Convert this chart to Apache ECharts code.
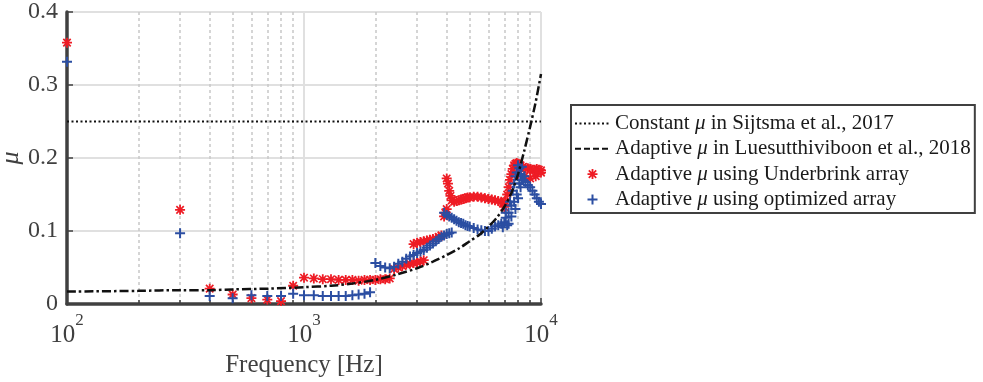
<!DOCTYPE html>
<html>
<head>
<meta charset="utf-8">
<title>mu vs frequency</title>
<script src="https://cdn.jsdelivr.net/npm/echarts@6.0.0/dist/echarts.min.js"></script>
<style>
html,body{margin:0;padding:0;background:#fff;}
#chart{width:983px;height:382px;}
</style>
</head>
<body>
<div id="chart"></div>
<script>
// constant mu (Sijtsma et al. 2017)
var constFreq=[100,10000];
var constMu=[0.25,0.25];

// adaptive mu curve (Luesutthiviboon et al. 2018)
var luesFreq=[100,200,300,400,500,700,1000,1300,1600,2000,2500,3000,3500,4000,4500,5000,5500,6000,6500,7000,7500,8000,8500,9000,9500,10000];
var luesMu=[0.017,0.018,0.019,0.019,0.020,0.021,0.023,0.025,0.028,0.033,0.041,0.049,0.058,0.067,0.076,0.086,0.095,0.106,0.118,0.133,0.152,0.178,0.210,0.243,0.277,0.315];

// Underbrink array
var ubFreq=[100,300,400,500,600,700,800,900,
	1000,1100,1200,1300,1400,1500,1600,1700,1800,1900,2000,2100,2200,2300,
	2400,2500,2600,2700,2800,2900,3000,3100,3200,
	2900,3000,3100,3200,3300,3400,3500,3600,3700,3800,
	3900,3950,4000,4000,4050,4100,4150,4200,4300,4400,4500,4600,4700,4800,4900,5000,5200,5400,5600,5800,6000,6200,6400,6600,6800,
	6900,7000,7100,7200,7300,7400,7500,7600,7700,7800,7900,8000,8200,8400,8600,8800,9000,9200,9400,9600,9800,10000,
	8000,8500,9000,9500,10000];
var ubMu=[0.358,0.129,0.021,0.013,0.008,0.006,0.004,0.025,
	0.036,0.035,0.034,0.034,0.033,0.033,0.033,0.032,0.033,0.033,0.033,0.034,0.034,0.035,
	0.048,0.050,0.052,0.054,0.055,0.056,0.057,0.058,0.060,
	0.082,0.084,0.085,0.086,0.087,0.088,0.089,0.090,0.092,0.094,
	0.120,0.125,0.130,0.172,0.165,0.155,0.148,0.142,0.140,0.141,0.142,0.143,0.144,0.145,0.146,0.146,0.147,0.147,0.146,0.145,0.144,0.143,0.142,0.141,0.140,
	0.138,0.133,0.140,0.150,0.160,0.170,0.178,0.185,0.190,0.192,0.193,0.192,0.190,0.188,0.186,0.186,0.185,0.184,0.184,0.185,0.184,0.183,
	0.178,0.175,0.172,0.175,0.180];

// optimized array
var optFreq=[100,300,400,500,600,700,800,900,
	1000,1100,1200,1300,1400,1500,1600,1700,1800,1900,
	2000,2100,2200,2300,2400,2500,2600,2700,2800,2900,3000,3100,3200,3300,3400,3500,3600,3700,3800,3900,4000,4100,4200,
	3900,4000,4100,4200,4300,4400,4500,4600,4700,4800,4900,5000,5200,5400,5600,5800,6000,6200,6400,6600,6800,7000,
	7100,7200,7300,7400,7500,7600,7700,7800,7900,8000,8100,8200,8300,
	6900,7100,7300,7500,7700,7900,8100,8300,8500,
	7800,8000,8200,8400,8600,8800,9000,9200,9400,9600,9800,10000];
var optMu=[0.332,0.097,0.011,0.008,0.012,0.011,0.011,0.014,
	0.012,0.012,0.011,0.011,0.011,0.011,0.012,0.013,0.014,0.016,
	0.056,0.052,0.050,0.049,0.051,0.055,0.058,0.062,0.065,0.067,0.070,0.072,0.074,0.077,0.080,0.083,0.086,0.089,0.092,0.094,0.096,0.097,0.098,
	0.125,0.122,0.120,0.118,0.116,0.114,0.112,0.111,0.110,0.108,0.107,0.106,0.104,0.102,0.101,0.100,0.100,0.103,0.106,0.108,0.110,0.112,
	0.118,0.108,0.125,0.140,0.120,0.155,0.165,0.175,0.180,0.190,0.186,0.178,0.170,
	0.105,0.125,0.110,0.135,0.140,0.150,0.165,0.188,0.175,
	0.130,0.145,0.160,0.170,0.167,0.163,0.160,0.155,0.150,0.145,0.140,0.137];

var starSym='path://M4.1,0H5.9V10H4.1Z M0,4.1H10V5.9H0Z M1.9,0.7L9.3,8.1L8.1,9.3L0.7,1.9Z M8.1,0.7L9.3,1.9L1.9,9.3L0.7,8.1Z';
var plusSym='path://M4,0H6V4H10V6H6V10H4V6H0V4H4Z';
var serif='Liberation Serif';

function pairs(f,v){
	var out=[];
	for(var i=0;i<f.length;i++){
		out.push([f[i],v[i]]);
	}
	return out;
}

var chart=echarts.init(document.getElementById('chart'));

var noDot={opacity:0,color:'rgba(0,0,0,0)',borderWidth:0};

var option={
	animation:false,
	backgroundColor:'#fff',
	grid:{left:67,right:442,top:12,bottom:78,containLabel:false,outerBoundsMode:'none'},
	legend:{
		orient:'vertical',
		left:571,
		top:105,
		padding:[8,4,3,3],
		itemWidth:35,
		itemHeight:10,
		itemGap:4.3,
		backgroundColor:'#fff',
		borderColor:'#404040',
		borderWidth:2,
		borderRadius:0,
		data:[
			{name:'Constant μ in Sijtsma et al., 2017',itemStyle:noDot},
			{name:'Adaptive μ in Luesutthiviboon et al., 2018',itemStyle:noDot,lineStyle:{type:[6,3]}},
			{name:'Adaptive μ using Underbrink array'},
			{name:'Adaptive μ using optimized array'}
		],
		formatter:function(name){
			return name.replace('μ','{mu|μ}');
		},
		textStyle:{
			fontFamily:serif,fontSize:21,color:'#1a1a1a',lineHeight:20,
			rich:{mu:{fontFamily:serif,fontSize:21,fontStyle:'italic',color:'#1a1a1a',lineHeight:20}}
		}
	},
	xAxis:{
		type:'log',
		logBase:10,
		min:100,
		max:10000,
		name:'Frequency [Hz]',
		nameLocation:'middle',
		nameGap:40,
		nameTextStyle:{fontFamily:serif,fontSize:25,color:'#404040'},
		axisLine:{show:true,onZero:false,lineStyle:{color:'#404040',width:3.5}},
		axisTick:{show:true,inside:true,length:6,lineStyle:{color:'#404040',width:1.5}},
		minorTick:{show:true,splitNumber:9,length:4,lineStyle:{color:'#404040',width:1.5}},
		splitLine:{show:true,lineStyle:{color:'#e0e0e0',width:2}},
		minorSplitLine:{show:true,lineStyle:{color:'#c8c8c8',width:1.5,type:[3,3]}},
		axisLabel:{
			margin:8,
			color:'#404040',
			formatter:function(v){
				return '{b|10}{s|'+Math.round(Math.log(v)/Math.LN10)+'}';
			},
			rich:{
				b:{fontFamily:serif,fontSize:25,color:'#404040',lineHeight:36,verticalAlign:'bottom'},
				s:{fontFamily:serif,fontSize:17,color:'#404040',lineHeight:18,verticalAlign:'top'}
			}
		}
	},
	yAxis:{
		type:'value',
		min:0,
		max:0.4,
		interval:0.1,
		name:'μ',
		nameLocation:'middle',
		nameRotate:90,
		nameGap:42,
		nameTextStyle:{fontFamily:serif,fontSize:26,fontStyle:'italic',color:'#404040'},
		axisLine:{show:true,onZero:false,lineStyle:{color:'#404040',width:3.5}},
		axisTick:{show:true,inside:true,length:6,lineStyle:{color:'#404040',width:1.5}},
		splitLine:{show:true,lineStyle:{color:'#e0e0e0',width:2}},
		axisLabel:{
			margin:9,
			fontFamily:serif,
			fontSize:24,
			color:'#404040'
		}
	},
	series:[
		{
			name:'Constant μ in Sijtsma et al., 2017',
			type:'line',
			data:pairs(constFreq,constMu),
			symbol:'circle',
			showSymbol:false,
			z:5,
			lineStyle:{color:'#111',width:2,type:[2,2.5]},
			itemStyle:{color:'#111'}
		},
		{
			name:'Adaptive μ in Luesutthiviboon et al., 2018',
			type:'line',
			data:pairs(luesFreq,luesMu),
			symbol:'circle',
			showSymbol:false,
			smooth:0.3,
			z:5,
			lineStyle:{color:'#111',width:2.5,type:[9,3,2.5,3]},
			itemStyle:{color:'#111'}
		},
		{
			name:'Adaptive μ using Underbrink array',
			type:'scatter',
			data:pairs(ubFreq,ubMu),
			symbol:starSym,
			symbolSize:10,
			z:2,
			itemStyle:{color:'#ee1c25',opacity:1}
		},
		{
			name:'Adaptive μ using optimized array',
			type:'scatter',
			data:pairs(optFreq,optMu),
			symbol:plusSym,
			symbolSize:10,
			z:3,
			itemStyle:{color:'#2b4ea2',opacity:1}
		}
	]
};

chart.setOption(option,true);
window.onresize=chart.resize;
</script>
</body>
</html>
